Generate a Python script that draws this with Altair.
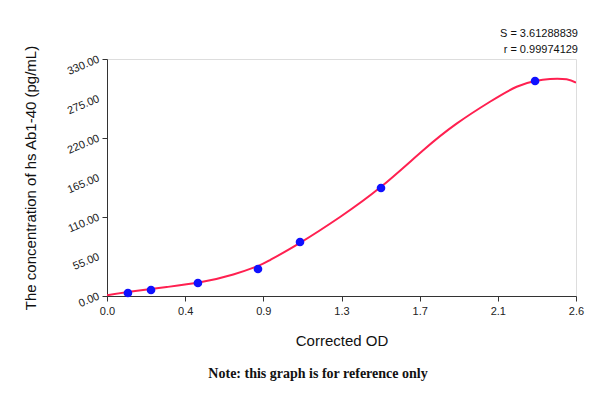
import altair as alt
import pandas as pd

# Measured standards
od_points = [0.116, 0.244, 0.504, 0.837, 1.070, 1.519, 2.373]
conc_points = [4.2, 8.4, 18.1, 37.6, 75.2, 150.4, 299.4]

# Fitted curve
curve_od = [0.0, 0.146, 0.331, 0.516, 0.700, 0.839, 0.904, 1.070, 1.292, 1.519,
            1.753, 1.938, 2.123, 2.271, 2.373, 2.456, 2.548, 2.600]
curve_conc = [1.0, 6.5, 12.5, 19.1, 30.0, 42.0, 50.0, 74.0, 110.0, 152.0,
              203.0, 240.0, 270.5, 291.4, 299.4, 302.2, 301.7, 297.0]

# Axis ticks
x_tick_labels = ["0.0", "0.4", "0.9", "1.3", "1.7", "2.1", "2.6"]
x_max = 2.6
x_minor_per_major = 4
y_tick_labels = ["0.00", "55.00", "110.00", "165.00", "220.00", "275.00", "330.00"]
y_max = 330.0
y_major_step = 55.0
y_minor_per_major = 4

stats_lines = ["S = 3.61288839", "r = 0.99974129"]
note_text = "Note: this graph is for reference only"

n_x = (len(x_tick_labels) - 1) * x_minor_per_major
x_step = x_max / n_x
x_values = [i * x_step for i in range(n_x + 1)]
y_major_values = [i * y_major_step for i in range(len(y_tick_labels))]
y_step = y_major_step / y_minor_per_major
n_y = int(round(y_max / y_step))
y_all_values = [i * y_step for i in range(n_y + 1)]

pts = pd.DataFrame({"od": od_points, "conc": conc_points})
curve = pd.DataFrame({"od": curve_od, "conc": curve_conc})
ylabels = pd.DataFrame({"conc": y_major_values, "lab": y_tick_labels})

label_arr = "[" + ",".join("'%s'" % s for s in x_tick_labels) + "]"
x_label_expr = (
    f"(round(datum.value/{x_step}) % {x_minor_per_major} == 0) ? "
    f"{label_arr}[round(datum.value/{x_step})/{x_minor_per_major}] : ''"
)

x_scale = alt.Scale(domain=[0, x_max], nice=False, zero=False)
y_scale = alt.Scale(domain=[0, y_max], nice=False)

x_axis = alt.Axis(
    title="Corrected OD",
    values=x_values,
    labelExpr=x_label_expr,
    labelOverlap=False,
    labelFlush=False,
    grid=False,
    domainColor="#333333",
    tickColor="#333333",
    tickSize={"condition": {"test": f"round(datum.value/{x_step}) % {x_minor_per_major} == 0", "value": 5}, "value": 3},
    labelFont="Liberation Sans",
    labelFontSize=11,
    labelColor="#222222",
    labelPadding=4,
    titleFont="Liberation Sans",
    titleFontSize=15,
    titleFontWeight="normal",
    titleColor="#111111",
    titleY=44,
    titleBaseline="middle",
)
y_axis = alt.Axis(
    title="The concentration of hs Ab1-40 (pg/mL)",
    values=y_all_values,
    labels=False,
    grid=False,
    domainColor="#333333",
    tickColor="#333333",
    tickSize={"condition": {"test": f"round(datum.value/{y_step}) % {y_minor_per_major} == 0", "value": 5}, "value": 3},
    titleFont="Liberation Sans",
    titleFontSize=15,
    titleFontWeight="normal",
    titleColor="#111111",
    titleX=-77,
    titleBaseline="middle",
)

line = alt.Chart(curve).mark_line(color="#ff2050", strokeWidth=2, interpolate="natural", clip=True).encode(
    x=alt.X("od:Q", scale=x_scale, axis=x_axis),
    y=alt.Y("conc:Q", scale=y_scale, axis=y_axis),
)

y_label_layer = alt.Chart(ylabels).mark_text(
    align="right", baseline="middle", angle=337, font="Liberation Sans", fontSize=11,
    color="#222222"
).encode(
    y=alt.Y("conc:Q", scale=y_scale),
    x=alt.value(-8),
    text="lab:N",
)

points = alt.Chart(pts).mark_circle(color="#1010ff", opacity=1, size=75).encode(
    x=alt.X("od:Q", scale=x_scale),
    y=alt.Y("conc:Q", scale=y_scale),
)

stat_layers = []
for i, s in enumerate(stats_lines):
    stat_layers.append(
        alt.Chart(pd.DataFrame({"t": [s]})).mark_text(
            align="right", baseline="middle", font="Liberation Sans", fontSize=11, color="#111111"
        ).encode(
            x=alt.value(471),
            y=alt.value(-25 + 16 * i),
            text="t:N",
        )
    )

note = alt.Chart(pd.DataFrame({"t": [note_text]})).mark_text(
    align="center", baseline="middle", font="Liberation Serif", fontSize=14,
    fontWeight="bold", color="#111111"
).encode(
    x=alt.value(211),
    y=alt.value(315),
    text="t:N",
)

chart = alt.layer(line, y_label_layer, points, *stat_layers, note).properties(
    width=469,
    height=237,
    autosize=alt.AutoSizeParams(type="none"),
    padding={"left": 99, "top": 51, "right": 16, "bottom": 89},
).configure_view(stroke="#888888", strokeWidth=1).configure(background="white")

chart.save("out.html", embed_options={"renderer": "svg", "actions": False})
